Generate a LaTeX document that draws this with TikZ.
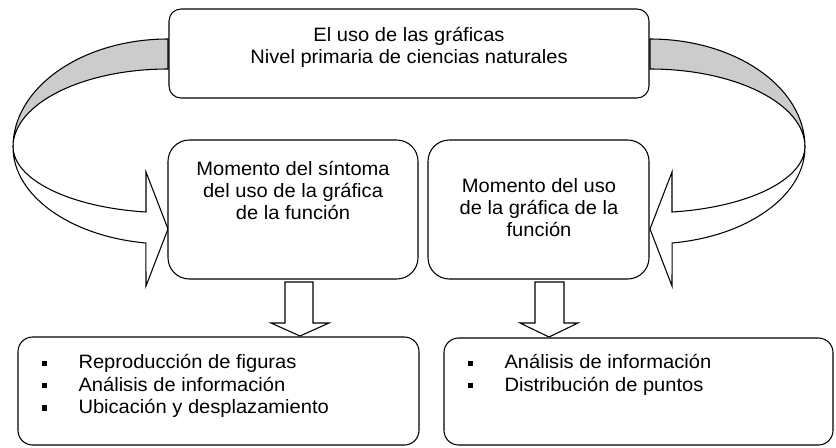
\documentclass[tikz,border=0pt]{standalone}
\usepackage{fontspec}
\setmainfont[FakeStretch=1.04]{Liberation Sans}
\usetikzlibrary{positioning}

\newcommand{\blt}{\makebox[27.75pt][l]{\rule[2.2pt]{4pt}{4pt}}}

\begin{document}
\begin{tikzpicture}[x=0.75pt,y=-0.75pt,line width=0.8pt,
                    font=\fontsize{14.5}{16.8}\selectfont]
  \tikzstyle{box}=[draw,fill=white,inner sep=0pt]
  \tikzstyle{txt}=[align=center,inner sep=0pt]
  \tikzstyle{lst}=[align=left,inner sep=0pt,anchor=north west]
  \tikzstyle{ribbon}=[draw,line join=miter]

  \useasboundingbox (0,0) rectangle (836,447);

  % curved arrows, back part
  \path[ribbon,fill=black!20] (168,39)
        arc[start angle=270,end angle=180,x radius=155,y radius=108]
        arc[start angle=180,end angle=270,x radius=155,y radius=78] -- cycle;
  \path[ribbon,fill=black!20] (650,39)
        arc[start angle=270,end angle=360,x radius=155,y radius=108]
        arc[start angle=360,end angle=270,x radius=155,y radius=78] -- cycle;

  % curved arrows, front part
  \path[ribbon,fill=white] (13,147)
        arc[start angle=180,end angle=98.2,x radius=155,y radius=97]
        -- (146,286) -- (168,229) -- (146,172) -- (146,212)
        arc[start angle=98.2,end angle=180,x radius=155,y radius=66] -- cycle;
  \path[ribbon,fill=white] (805,147)
        arc[start angle=0,end angle=81.8,x radius=155,y radius=97]
        -- (672,286) -- (650,229) -- (672,172) -- (672,212)
        arc[start angle=81.8,end angle=0,x radius=155,y radius=66] -- cycle;

  \node[box,rounded corners=9pt,minimum width=360pt,minimum height=66.75pt]
        (graficas) at (409,53.5) {};
  \node[txt] (graficastxt) at (409,47.5)
        {El uso de las gráficas\\Nivel primaria de ciencias naturales};

  \node[box,rounded corners=16pt,minimum width=187.5pt,minimum height=104.25pt]
        (sintoma) at (293,209.5) {};
  \node[txt] (sintomatxt) at (293,190.5)
        {Momento del síntoma\\del uso de la gráfica\\de la función};

  \node[box,rounded corners=16pt,minimum width=165.75pt,minimum height=104.25pt]
        (usofun) at (538.5,209.5) {};
  \node[txt] (usofuntxt) at (539,207.5)
        {Momento del uso\\de la gráfica de la\\función};

  % block arrows down
  \draw[fill=white] (285,282) -- (313,282) -- (313,323) -- (329,323) -- (300,336)
        -- (271,323) -- (285,323) -- cycle;
  \draw[fill=white] (535,282) -- (564,282) -- (564,323) -- (578,323) -- (549,337)
        -- (520,323) -- (535,323) -- cycle;

  \node[box,rounded corners=11pt,minimum width=300.75pt,minimum height=81pt]
        (habil) at (218.5,391) {};
  \node[lst] (habiltxt) at (41,354)
        {\blt Reproducción de figuras\\\blt Análisis de información\\\blt Ubicación y desplazamiento};

  \node[box,rounded corners=11pt,minimum width=291.75pt,minimum height=80.25pt]
        (datos) at (638.5,391.5) {};
  \node[lst] (datostxt) at (467,354)
        {\blt Análisis de información\\\blt Distribución de puntos};

\end{tikzpicture}
\end{document}
